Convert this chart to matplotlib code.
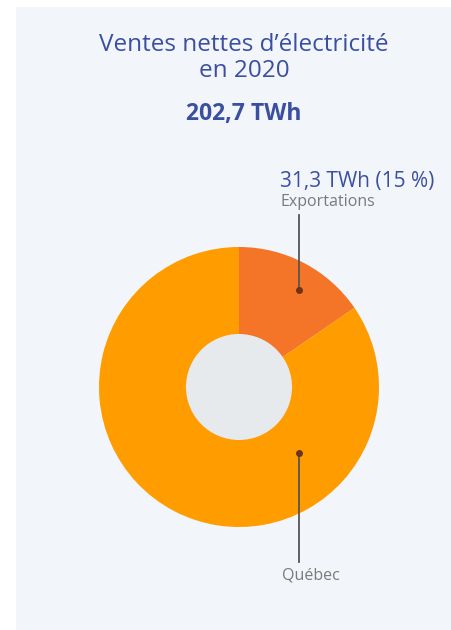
import matplotlib
matplotlib.use("Agg")
import matplotlib.pyplot as plt
from matplotlib.patches import Rectangle, Circle
import numpy as np

categories = ["Exportations", "Québec"]
values = [31.3, 171.4]
total_label = "202,7 TWh"
export_label = "31,3 TWh (15 %)"
title_lines = ["Ventes nettes d’électricité", "en 2020"]

W, H = 451, 630
fig = plt.figure(figsize=(W / 100, H / 100), dpi=100)
fig.patch.set_facecolor("white")
ax = fig.add_axes([0, 0, 1, 1])

def Y(y):
    return H - y

font = "Open Sans"
blue = "#3b4fa0"
grey = "#7a7a7a"

cx, cy, r = 239, Y(387), 140
colors = ["#f47428", "#ff9c00"]
ax.pie(values, colors=colors, startangle=90, counterclock=False, center=(cx, cy), radius=r,
       wedgeprops=dict(linewidth=0), frame=True)
ax.set_xlim(0, W)
ax.set_ylim(0, H)
ax.set_aspect("equal")
ax.axis("off")

ax.add_patch(Rectangle((16, 0), W - 16, H - 7, facecolor="#f2f5fa", edgecolor="none", zorder=0))
ax.add_patch(Circle((cx, cy), 53, facecolor="#e7eaed", edgecolor="none", zorder=5))

ax.text(244, Y(45), title_lines[0], ha="center", va="center", fontsize=17.5, color=blue, family=font)
ax.text(244, Y(71), title_lines[1], ha="center", va="center", fontsize=17.5, color=blue, family=font)
ax.text(244, Y(114), total_label, ha="center", va="center", fontsize=16.5, color=blue, family=font, fontweight="bold")

# Exports annotation
ax.plot([299, 299], [Y(290), Y(215)], color="#555555", lw=1.3, zorder=6)
ax.plot([299], [Y(290)], "o", color="#6b3516", ms=4, zorder=7)
ax.text(280, Y(182), export_label, ha="left", va="center", fontsize=15, color=blue, family=font)
ax.text(280, Y(202), categories[0], ha="left", va="center", fontsize=11.5, color=grey, family=font)

# Quebec annotation
ax.plot([299, 299], [Y(453), Y(562)], color="#555555", lw=1.3, zorder=6)
ax.plot([299], [Y(453)], "o", color="#6b3516", ms=4, zorder=7)
ax.text(311, Y(575), categories[1], ha="center", va="center", fontsize=11.5, color=grey, family=font)

fig.savefig("out.png", dpi=100, facecolor="white")
